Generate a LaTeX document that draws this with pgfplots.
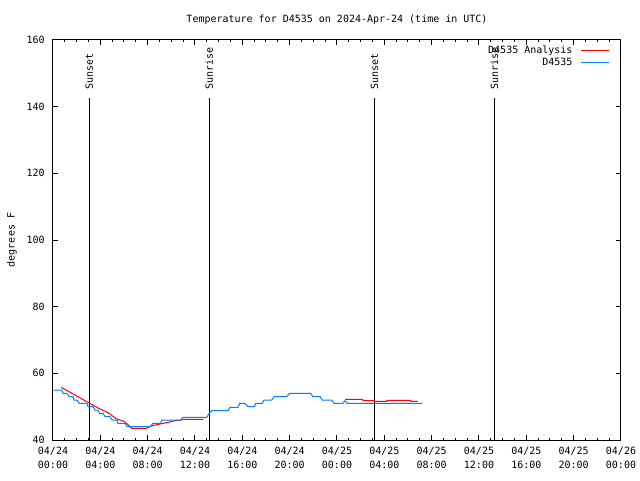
\documentclass[border=0pt]{standalone}
\usepackage{fontspec}
\setmainfont{DejaVu Sans Mono}
\usepackage{pgfplots}
\pgfplotsset{compat=1.18}
\definecolor{obsblue}{RGB}{0,128,255}
\definecolor{anared}{RGB}{255,0,0}
\begin{document}
\fontsize{10}{12}\selectfont
\begin{tikzpicture}[font=\fontsize{10}{12}\selectfont]
\fill[white] (0,0) rectangle (640pt,480pt);
\useasboundingbox (0,0) rectangle (640pt,480pt);
\begin{axis}[
  at={(53pt,40pt)}, anchor=south west,
  width=568pt, height=400pt, scale only axis,
  xmin=0, xmax=48, ymin=40, ymax=160,
  xtick={0,4,...,48},
  xticklabels={{04/24\\00:00},{04/24\\04:00},{04/24\\08:00},{04/24\\12:00},{04/24\\16:00},{04/24\\20:00},{04/25\\00:00},{04/25\\04:00},{04/25\\08:00},{04/25\\12:00},{04/25\\16:00},{04/25\\20:00},{04/26\\00:00}},
  xticklabel style={align=center, font=\fontsize{10}{14}\selectfont, yshift=-3pt},
  minor x tick num=3,
  ytick={40,60,80,100,120,140,160},
  yticklabels={40,60,80,100,120,140,160},
  yticklabel style={xshift=-4.5pt},
  tick align=inside, tick pos=both,
  major tick length=5pt, minor tick length=2.5pt,
  line width=1pt,
  every tick/.style={black, line width=1pt},
  unbounded coords=jump,
  legend plot pos=right,
  legend cell align=right,
  legend style={draw=none, fill=none, at={(1,1)}, anchor=north east, xshift=-11pt, yshift=-5pt, inner sep=0pt, row sep=0.6pt, column sep=7pt, nodes={inner sep=1pt, text height=7pt, text depth=2pt}},
  legend image code/.code={\draw[#1] (0pt,0pt) -- (28pt,0pt);},
]
% sunrise / sunset markers
\addplot[black, line width=1pt, forget plot] coordinates {(3.07,40) (3.07,142.5)};
\addplot[black, line width=1pt, forget plot] coordinates {(13.2,40) (13.2,142.5)};
\addplot[black, line width=1pt, forget plot] coordinates {(27.16,40) (27.16,142.5)};
\addplot[black, line width=1pt, forget plot] coordinates {(37.3,40) (37.3,142.5)};
\node[rotate=90, anchor=west, inner sep=0pt] at (axis cs:3.07,145) {Sunset};
\node[rotate=90, anchor=west, inner sep=0pt] at (axis cs:13.2,145) {Sunrise};
\node[rotate=90, anchor=west, inner sep=0pt] at (axis cs:27.16,145) {Sunset};
\node[rotate=90, anchor=west, inner sep=0pt] at (axis cs:37.3,145) {Sunrise};
% analysis
\addplot[anared, line width=1pt] coordinates {
(0.68,55.8) (1.5,54.2) (2.3,52.6) (3.09,51.0) (3.97,49.3) (4.65,48.2) (5.38,46.3) (6.0,45.6) (6.2,45.0) (6.45,44.2) (6.65,43.5) (7.88,43.5) (8.3,44.2) (9.05,44.8) (9.6,45.2) (10.2,45.7) (10.8,46.0) (11.16,46.2) (12.7,46.2)
(13,nan)
(24.68,52.2) (26.18,52.2) (26.18,51.85) (27.16,51.85) (27.16,51.6) (28.21,51.6) (28.21,51.9) (30.24,51.9) (30.24,51.6) (30.83,51.6)
};
\addlegendentry{D4535 Analysis}
% observations
\addplot[obsblue, line width=1pt] coordinates {
(0.05,55) (0.74,55) (0.85,54) (1.18,54) (1.35,53) (1.69,53) (1.78,52) (2.03,52) (2.2,51) (2.87,51) (2.96,50) (3.38,50) (3.55,49) (3.8,49) (3.93,48) (4.23,48) (4.4,47) (4.82,47) (4.99,46) (5.41,46) (5.49,45) (6.09,45) (6.26,44) (8.2,44) (8.45,45) (9.1,45) (9.19,46) (10.82,46) (10.95,46.8) (12.99,46.8) (13.2,48.0) (13.44,48.8) (14.79,48.8) (14.96,49.8) (15.64,49.8) (15.77,51) (16.23,51) (16.46,50) (17.02,50) (17.13,51) (17.67,51) (17.84,52) (18.49,52) (18.68,53) (19.75,53) (19.97,54) (21.78,54) (21.95,53) (22.57,53) (22.74,52) (23.56,52) (23.75,51) (24.49,51) (24.68,51.8) (24.88,51) (31.22,51)
};
\addlegendentry{D4535}
\end{axis}
\node at (337pt,460pt) {Temperature for D4535 on 2024-Apr-24 (time in UTC)};
\node[rotate=90] at (12pt,240pt) {degrees F};
\end{tikzpicture}
\end{document}
